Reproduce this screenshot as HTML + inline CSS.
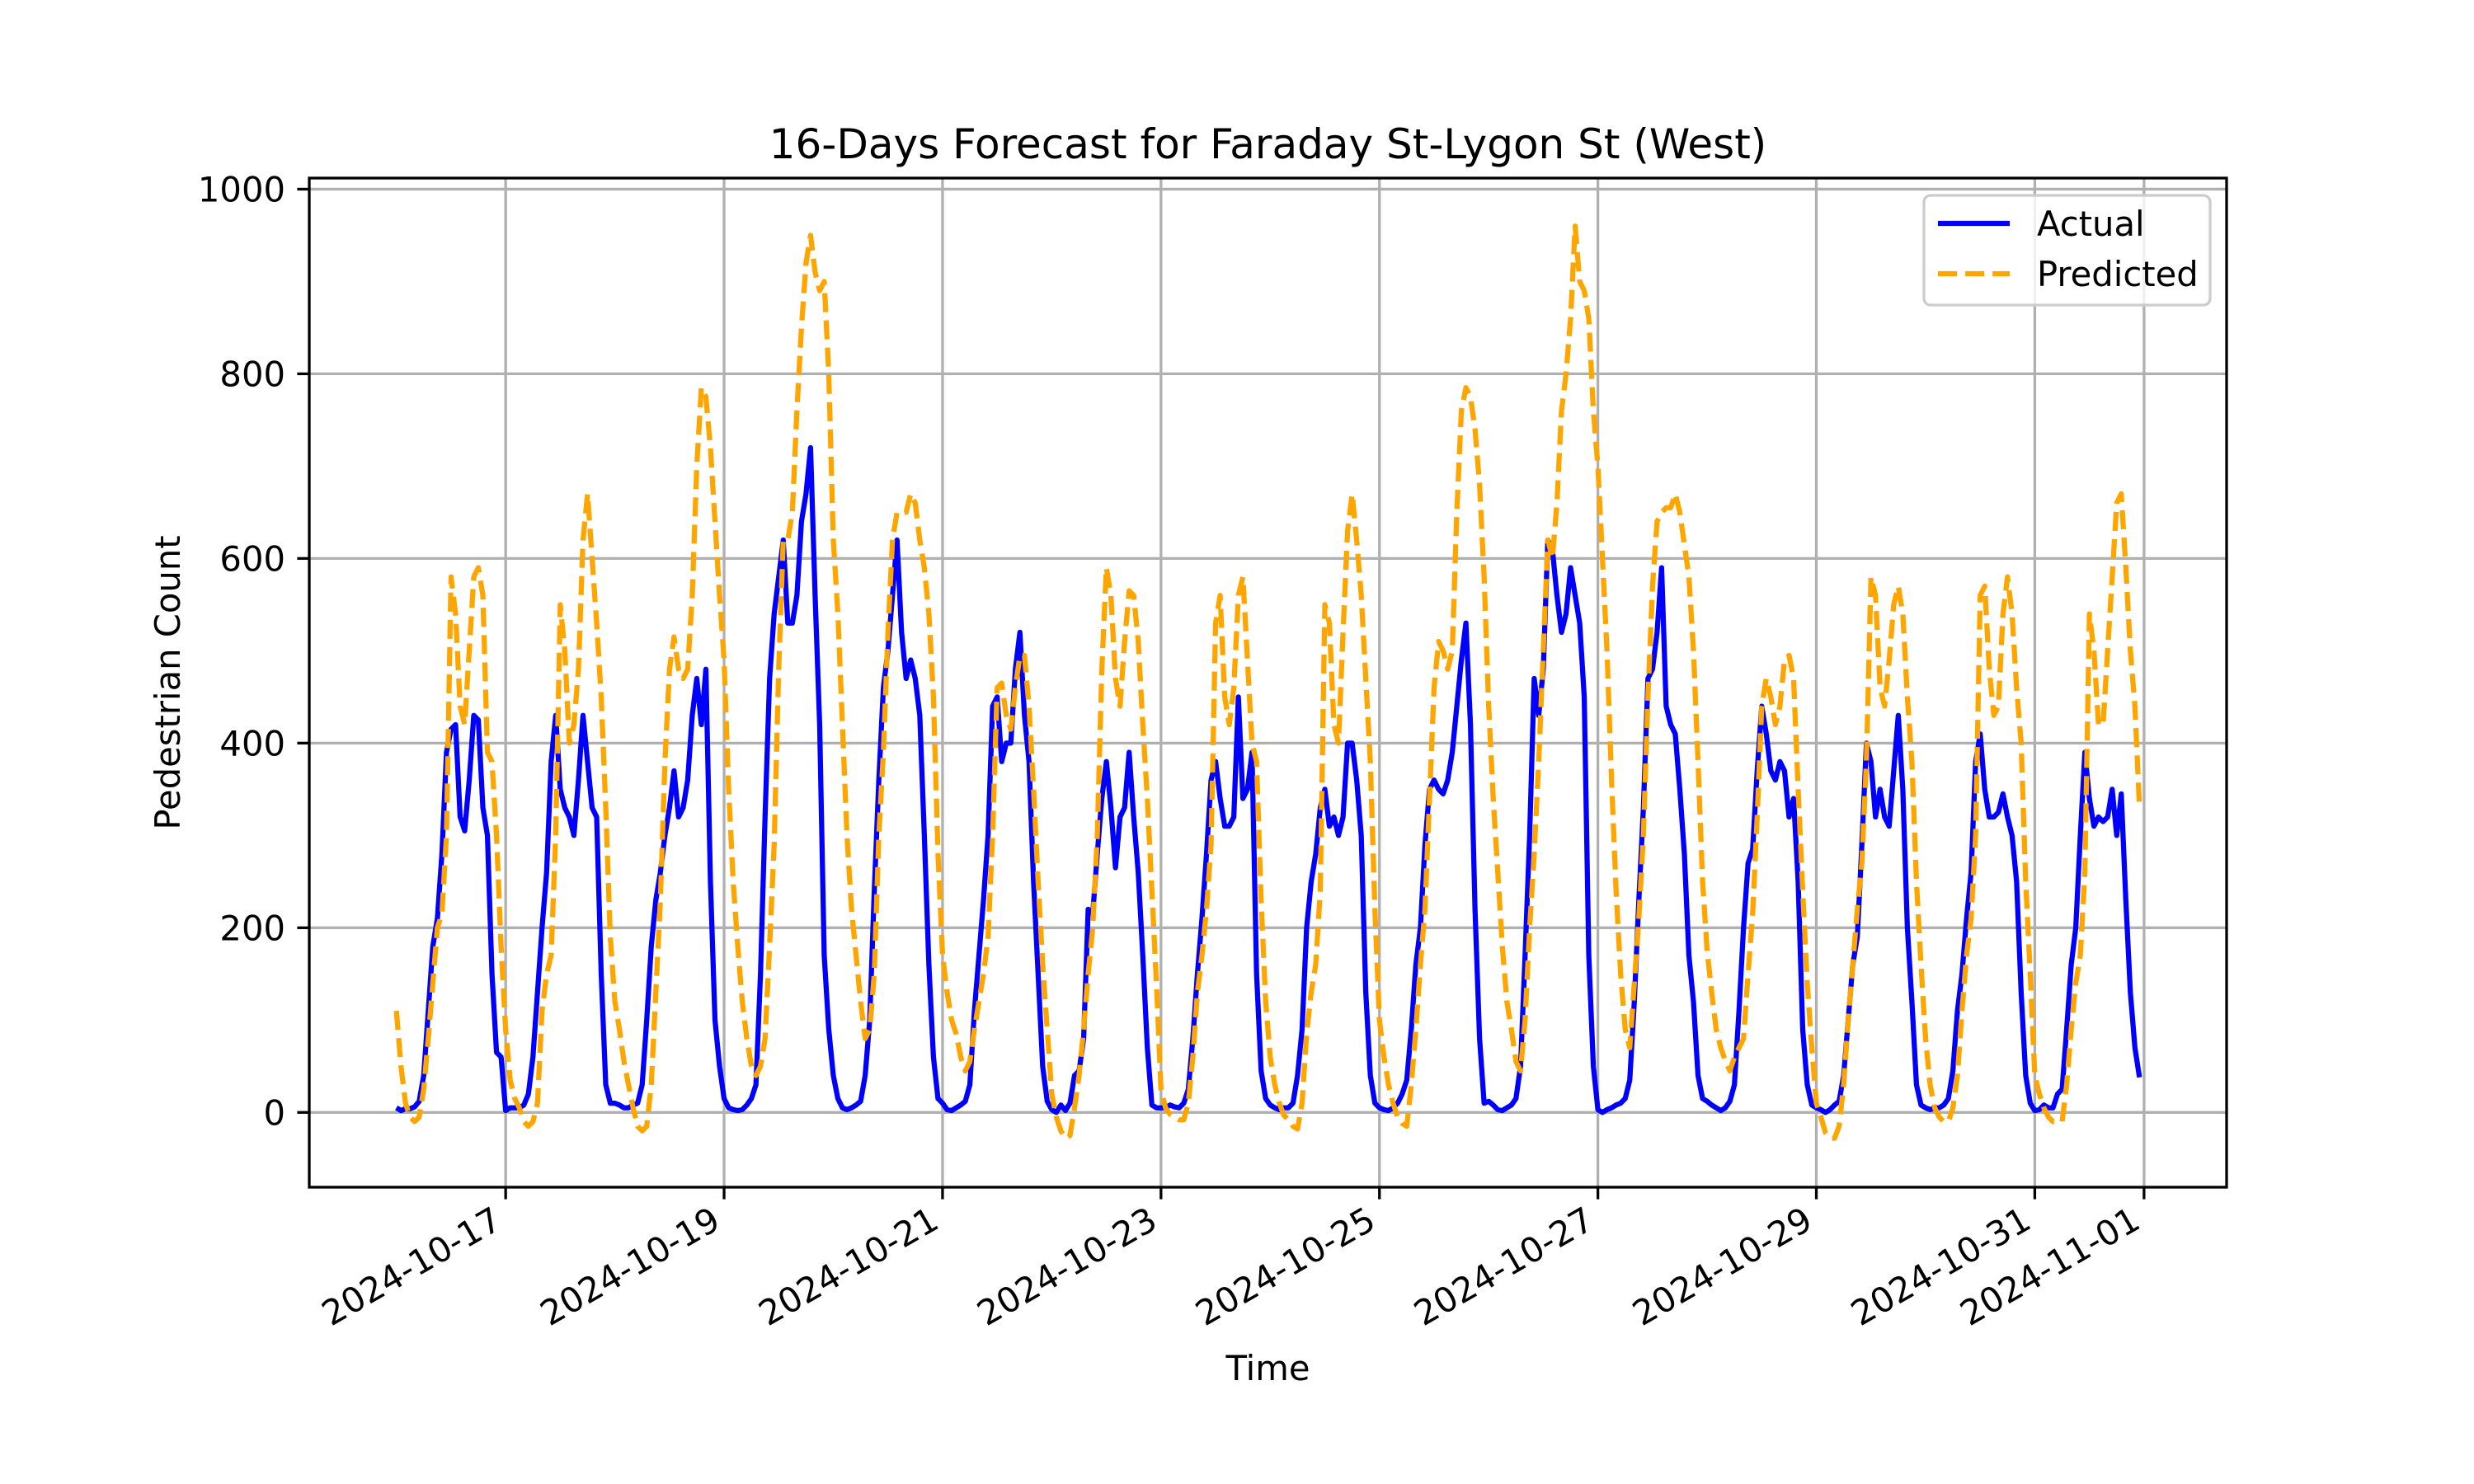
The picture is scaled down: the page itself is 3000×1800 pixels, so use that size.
<!DOCTYPE html>
<html>
<head>
<meta charset="utf-8">
<style>
html,body{margin:0;padding:0;background:#fff;}
svg{display:block;font-family:"DejaVu Sans","Liberation Sans",sans-serif;}
</style>
</head>
<body>
<svg id="chart" width="3000" height="1800" viewBox="0 0 3000 1800" xmlns="http://www.w3.org/2000/svg">
  <rect x="0" y="0" width="3000" height="1800" fill="#fff"/>
  <g id="grid"></g>
  <g id="series"></g>
  <rect x="375" y="216" width="2325" height="1224" fill="none" stroke="#000" stroke-width="3.3"/>
  <g id="axes"></g>
  <text x="1537.5" y="192" font-size="50" text-anchor="middle">16-Days Forecast for Faraday St-Lygon St (West)</text>
  <text x="1537.5" y="1674" font-size="41.7" text-anchor="middle">Time</text>
  <text x="0" y="0" font-size="41.7" text-anchor="middle" transform="translate(218,828) rotate(-90)">Pedestrian Count</text>
  <g>
    <rect x="2333" y="237" width="347" height="133" rx="8" fill="#fff" fill-opacity="0.8" stroke="#cccccc" stroke-width="3.3"/>
    <line x1="2350" y1="271" x2="2437" y2="271" stroke="#0000ff" stroke-width="6.25"/>
    <text x="2470" y="286" font-size="41.7">Actual</text>
    <line x1="2350" y1="332" x2="2437" y2="332" stroke="#ffa500" stroke-width="6.25" stroke-dasharray="23.1 10"/>
    <text x="2470" y="347" font-size="41.7">Predicted</text>
  </g>
</svg>
<script>
// ---- data (hourly, starting 2024-10-16 00:00) ----
const startDate = "2024-10-16";
const actual = [
5,2,4,4,6,12,40,110,180,210,280,390,415,420,320,305,360,430,425,330,300,150,65,60,
2,5,5,5,8,20,60,130,200,260,380,430,350,330,320,300,360,430,380,330,320,150,30,10,
10,8,5,5,8,10,30,100,180,230,260,300,330,370,320,330,360,430,470,420,480,250,100,50,
15,5,3,2,3,8,15,30,150,320,470,540,580,620,530,530,560,640,670,720,560,420,170,90,
40,15,5,3,5,8,12,40,100,240,360,460,500,560,620,520,470,490,470,430,300,160,60,15,
10,3,2,5,8,12,30,110,170,230,300,440,450,380,400,400,480,520,430,380,250,150,50,12,
3,0,8,2,10,40,45,80,220,215,280,340,380,330,265,320,330,390,320,260,170,70,8,5,
5,5,8,6,5,10,25,80,150,210,280,360,380,340,310,310,320,450,340,350,390,150,45,15,
8,5,3,5,5,10,40,90,200,250,280,330,350,310,320,300,320,400,400,360,300,130,40,10,
5,3,2,5,10,20,35,90,160,200,290,350,360,350,345,360,390,440,490,530,420,220,80,10,
12,8,3,2,5,8,15,50,170,300,470,430,480,620,610,560,520,540,590,560,530,450,170,50,
3,0,3,5,8,10,15,35,120,230,330,470,480,520,590,440,420,410,350,280,170,120,40,15,
12,8,5,2,5,12,30,110,200,270,285,370,440,410,370,360,380,370,320,340,250,90,30,8,
5,3,0,3,8,12,40,100,160,190,290,400,380,320,350,320,310,370,430,350,200,120,30,8,
5,3,5,5,8,15,45,110,150,210,260,380,410,350,320,320,325,345,320,300,250,130,40,10,
2,3,8,5,5,20,25,90,160,200,300,390,340,310,320,315,320,350,300,345,230,130,70,38
];
const predicted = [
110,50,10,-5,-10,-5,25,80,140,200,215,300,580,540,440,420,500,580,590,560,390,380,300,180,
90,35,15,5,-10,-15,-10,10,110,150,170,300,550,500,400,420,480,620,670,600,530,450,330,190,
120,90,55,30,5,-15,-20,-15,30,130,230,380,480,515,480,470,480,560,700,785,775,720,640,560,
490,350,250,180,120,80,50,40,50,80,180,290,480,620,620,650,760,850,920,950,910,890,900,800,
620,540,420,300,220,170,120,80,90,150,300,390,520,620,650,650,650,670,660,620,590,540,450,280,
170,130,100,85,60,45,55,90,120,150,190,300,460,465,430,415,460,495,495,440,350,250,160,90,
20,-5,-20,-28,-25,5,40,90,150,200,300,480,590,560,470,440,510,565,560,510,420,340,240,140,
25,5,-2,-5,-8,-8,10,60,130,170,220,290,530,560,450,420,460,560,580,490,400,380,230,120,
60,30,10,-3,-8,-15,-18,10,85,130,160,240,550,530,420,400,520,630,670,620,560,470,380,220,
100,60,30,10,-5,-12,-15,30,90,160,220,340,460,510,500,480,500,650,760,785,775,740,680,580,
440,340,260,180,120,90,55,45,100,200,280,380,500,620,600,660,760,800,860,960,900,890,860,760,
700,600,500,360,240,150,90,70,140,210,300,450,570,640,650,655,655,670,650,615,580,500,380,250,
175,130,90,70,56,45,60,70,80,150,215,320,440,470,450,420,440,490,495,470,350,240,140,70,
10,-5,-22,-28,-28,-15,30,100,160,220,270,380,580,560,460,440,490,550,570,540,450,380,250,160,
80,30,5,-5,-10,-10,5,40,110,170,210,300,560,570,480,430,440,540,580,540,460,400,250,150,
40,20,5,-5,-10,-10,-10,30,90,140,170,260,540,500,420,420,500,580,660,670,590,500,440,330
];
const xTickDays = [1,3,5,7,9,11,13,15,16];
const xTickLabels = ["2024-10-17","2024-10-19","2024-10-21","2024-10-23","2024-10-25","2024-10-27","2024-10-29","2024-10-31","2024-11-01"];
const yTicks = [0,200,400,600,800,1000];
const yTickLabels = ["0","200","400","600","800","1000"];

// ---- axis functions ----
const NS = "http://www.w3.org/2000/svg";
const X0 = 375, X1 = 2700, Y0 = 216, Y1 = 1440;
const xMin = -0.798, xMax = 16.756, yMin = -81, yMax = 1012;
function xScale(d){ return X0 + (d - xMin) / (xMax - xMin) * (X1 - X0); }
function yScale(v){ return Y1 - (v - yMin) / (yMax - yMin) * (Y1 - Y0); }
function mk(tag, attrs, parent){
  const el = document.createElementNS(NS, tag);
  for (const k in attrs) el.setAttribute(k, attrs[k]);
  parent.appendChild(el);
  return el;
}
const grid = document.getElementById('grid');
const axes = document.getElementById('axes');
const series = document.getElementById('series');

xTickDays.forEach((d, i) => {
  const x = xScale(d);
  const gl = mk('line', {x1:x, y1:Y0, x2:x, y2:Y1, stroke:'#b0b0b0', 'stroke-width':3.3}, grid);
  
  
  const tk = mk('line', {x1:x, y1:Y1, x2:x, y2:Y1+14.6, stroke:'#000', 'stroke-width':3.3}, axes);
  
  
  const t = mk('text', {x:0, y:0, 'font-size':41.7, 'text-anchor':'end', transform:'translate(' + (x-2) + ',' + (Y1+48) + ') rotate(-30)'}, axes);
  t.textContent = xTickLabels[i];
  
  
});
yTicks.forEach((v, i) => {
  const y = yScale(v);
  const gl = mk('line', {x1:X0, y1:y, x2:X1, y2:y, stroke:'#b0b0b0', 'stroke-width':3.3}, grid);
  
  
  const tk = mk('line', {x1:X0-14.6, y1:y, x2:X0, y2:y, stroke:'#000', 'stroke-width':3.3}, axes);
  
  
  const t = mk('text', {x:X0-29, y:y+15, 'font-size':41.7, 'text-anchor':'end'}, axes);
  t.textContent = yTickLabels[i];
  
  
});

function pathFor(arr){
  return arr.map((v, i) => (i ? 'L' : 'M') + xScale(i/24).toFixed(2) + ',' + yScale(v).toFixed(2)).join(' ');
}
const pa = mk('path', {d:pathFor(actual), fill:'none', stroke:'#0000ff', 'stroke-width':6.25, 'stroke-linejoin':'round'}, series);


const pp = mk('path', {d:pathFor(predicted), fill:'none', stroke:'#ffa500', 'stroke-width':6.25, 'stroke-dasharray':'23.1 10', 'stroke-linejoin':'round'}, series);


</script>
</body>
</html>
